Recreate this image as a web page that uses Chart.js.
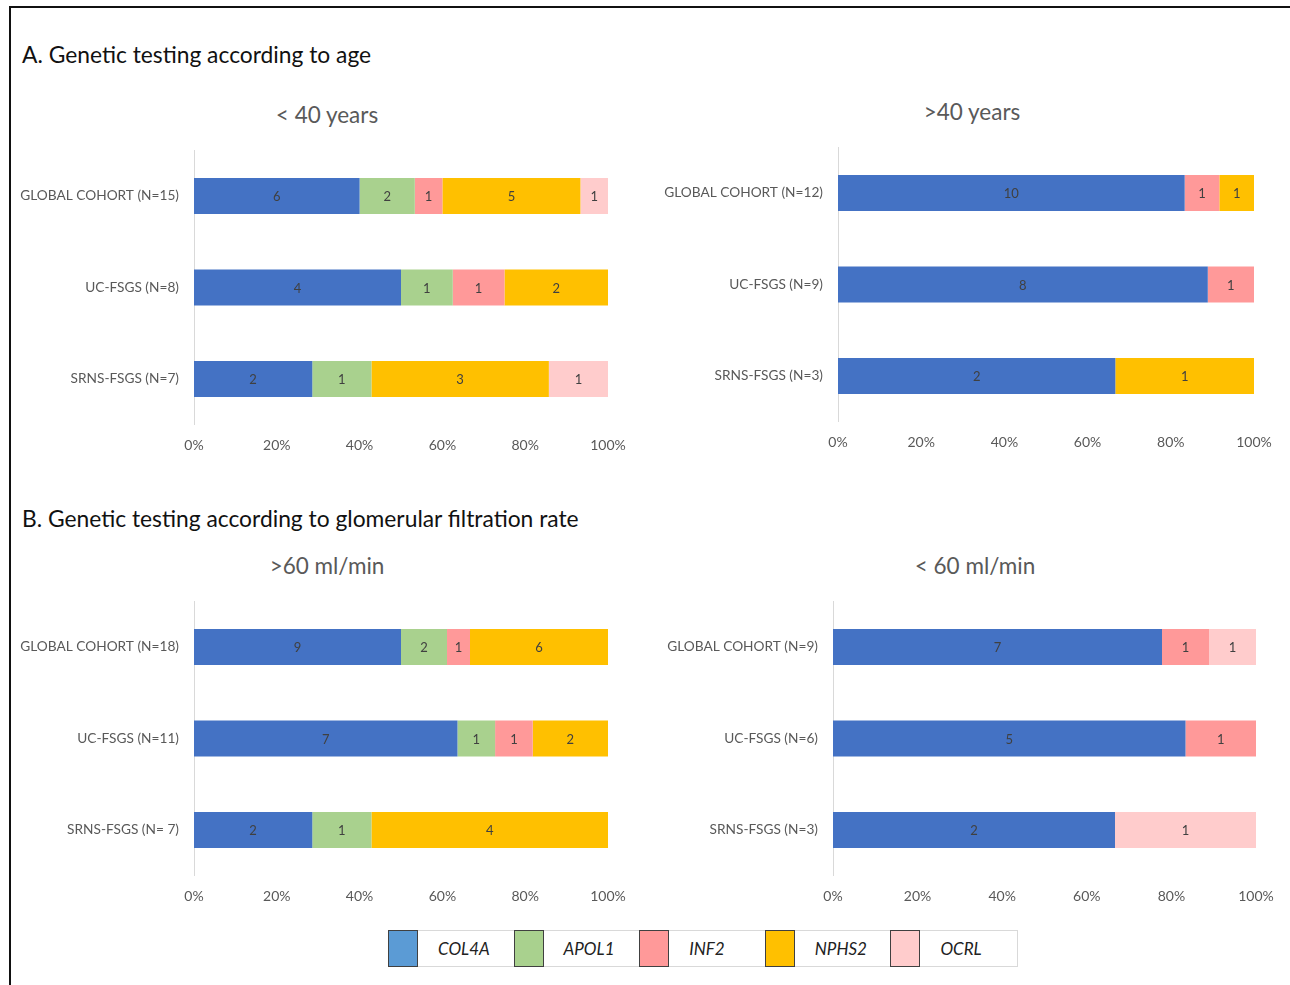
<!DOCTYPE html>
<html>
<head>
<meta charset="utf-8">
<script src="https://cdn.jsdelivr.net/npm/chart.js@4.4.1/dist/chart.umd.min.js"></script>
<style>
  html, body { margin: 0; padding: 0; background: #fff; }
  body { width: 1290px; height: 985px; position: relative; overflow: hidden; font-family: Lato, "Open Sans", sans-serif; }
  .frame { position: absolute; left: 9px; top: 6px; width: 1290px; height: 1000px; border-top: 2px solid #111; border-left: 2px solid #111; }
  .head { position: absolute; left: 22px; font-size: 22.8px; color: #111; transform: translateY(-50%); white-space: nowrap; }
  .sub { position: absolute; font-size: 22.5px; color: #595959; transform: translate(-50%, -50%); white-space: nowrap; }
  .chart { position: absolute; }
  #legend { position: absolute; left: 388px; top: 930px; width: 630px; height: 37px; border: 1px solid #d9d9d9; box-sizing: border-box; display: flex; }
  #legend .item { width: 126px; display: flex; align-items: center; height: 100%; }
  #legend .sw { width: 30px; height: 37px; box-sizing: border-box; border: 1.5px solid #404040; margin-left: -1px; }
  #legend .lb { margin-left: 20px; font-style: italic; font-size: 17px; color: #222; }
</style>
</head>
<body>
<div class="frame"></div>
<div class="head" style="top:54px">A. Genetic testing according to age</div>
<div class="head" style="top:518px">B. Genetic testing according to glomerular filtration rate</div>
<div class="sub" style="left:327px;top:114px">&lt; 40 years</div>
<div class="sub" style="left:972px;top:111px">&gt;40 years</div>
<div class="sub" style="left:327px;top:565px">&gt;60 ml/min</div>
<div class="sub" style="left:975px;top:565px">&lt; 60 ml/min</div>

<canvas id="c1" class="chart"></canvas>
<canvas id="c2" class="chart"></canvas>
<canvas id="c3" class="chart"></canvas>
<canvas id="c4" class="chart"></canvas>
<div id="legend"></div>

<script>
// genes (series)
var genes = ['COL4A', 'APOL1', 'INF2', 'NPHS2', 'OCRL'];
var barColors = ['#4472C4', '#A9D18E', '#FF9999', '#FFC000', '#FFCCCC'];
var legendColors = ['#5B9BD5', '#A9D18E', '#FF9999', '#FFC000', '#FFCCCC'];
var xTicks = [0, 20, 40, 60, 80, 100];

// < 40 years
var ageYoungLabels = ['GLOBAL COHORT (N=15)', 'UC-FSGS (N=8)', 'SRNS-FSGS (N=7)'];
var ageYoung = [
  [6, 4, 2],   // COL4A
  [2, 1, 1],   // APOL1
  [1, 1, 0],   // INF2
  [5, 2, 3],   // NPHS2
  [1, 0, 1]    // OCRL
];

// > 40 years
var ageOldLabels = ['GLOBAL COHORT (N=12)', 'UC-FSGS (N=9)', 'SRNS-FSGS (N=3)'];
var ageOld = [
  [10, 8, 2],
  [0, 0, 0],
  [1, 1, 0],
  [1, 0, 1],
  [0, 0, 0]
];

// > 60 ml/min
var gfrHighLabels = ['GLOBAL COHORT (N=18)', 'UC-FSGS (N=11)', 'SRNS-FSGS (N= 7)'];
var gfrHigh = [
  [9, 7, 2],
  [2, 1, 1],
  [1, 1, 0],
  [6, 2, 4],
  [0, 0, 0]
];

// < 60 ml/min
var gfrLowLabels = ['GLOBAL COHORT (N=9)', 'UC-FSGS (N=6)', 'SRNS-FSGS (N=3)'];
var gfrLow = [
  [7, 5, 2],
  [0, 0, 0],
  [1, 1, 0],
  [0, 0, 0],
  [1, 0, 1]
];

// canvas boxes and plot edges (page px)
var panels = [
  { id: 'c1', labels: ageYoungLabels, counts: ageYoung, box: [10, 130, 630, 330], plot: [194, 608, 150.25, 424.75] },
  { id: 'c2', labels: ageOldLabels,   counts: ageOld,   box: [645, 127, 640, 330], plot: [838, 1254, 147.25, 421.75] },
  { id: 'c3', labels: gfrHighLabels,  counts: gfrHigh,  box: [10, 581, 630, 330], plot: [194, 608, 601.25, 875.75] },
  { id: 'c4', labels: gfrLowLabels,   counts: gfrLow,   box: [645, 581, 640, 330], plot: [833, 1256, 601.25, 875.75] }
];

var FONT = 'Lato, "Open Sans", sans-serif';

var countLabels = {
  id: 'countLabels',
  afterDatasetsDraw: function(chart) {
    var ctx = chart.ctx;
    ctx.save();
    ctx.font = '13px ' + FONT;
    ctx.fillStyle = '#404040';
    ctx.textAlign = 'center';
    ctx.textBaseline = 'middle';
    chart.data.datasets.forEach(function(ds, i) {
      chart.getDatasetMeta(i).data.forEach(function(bar, j) {
        var n = ds.counts[j];
        if (!n) return;
        var p = bar.getProps(['x', 'base', 'y'], true);
        ctx.fillText(String(n), (p.x + p.base) / 2, p.y + 1);
      });
    });
    ctx.restore();
  }
};

panels.forEach(function(p) {
  var cv = document.getElementById(p.id);
  var b = p.box;
  cv.style.left = b[0] + 'px';
  cv.style.top = b[1] + 'px';
  cv.width = b[2];
  cv.height = b[3];
  cv.style.width = b[2] + 'px';
  cv.style.height = b[3] + 'px';

  var totals = p.labels.map(function(_, j) {
    return p.counts.reduce(function(s, arr) { return s + arr[j]; }, 0);
  });
  var datasets = genes.map(function(g, i) {
    return {
      label: g,
      counts: p.counts[i],
      data: p.counts[i].map(function(v, j) { return v / totals[j] * 100; }),
      backgroundColor: barColors[i],
      borderWidth: 0,
      barPercentage: 36 / 91.5,
      categoryPercentage: 1
    };
  });

  new Chart(cv.getContext('2d'), {
    type: 'bar',
    data: { labels: p.labels, datasets: datasets },
    plugins: [countLabels],
    options: {
      indexAxis: 'y',
      responsive: false,
      animation: false,
      devicePixelRatio: 1,
      layout: { padding: { top: p.plot[2] - b[1], right: b[0] + b[2] - p.plot[1], bottom: 0, left: 0 } },
      plugins: { legend: { display: false }, tooltip: { enabled: false } },
      scales: {
        x: {
          stacked: true, min: 0, max: 100,
          afterBuildTicks: function(s) { s.ticks = xTicks.map(function(v) { return { value: v }; }); },
          afterFit: function(s) { s.height = b[1] + b[3] - p.plot[3]; s.paddingLeft = 0; s.paddingRight = 0; },
          grid: { display: false, drawTicks: false },
          border: { display: false },
          ticks: { padding: 12, color: '#595959', font: { family: FONT, size: 14 }, callback: function(v) { return v + '%'; }, maxRotation: 0 }
        },
        y: {
          stacked: true,
          afterFit: function(s) { s.width = p.plot[0] - b[0]; s.paddingTop = 0; s.paddingBottom = 0; },
          grid: { display: false, drawTicks: false },
          border: { display: true, color: '#D9D9D9', width: 1 },
          ticks: { padding: 15, color: '#595959', font: { family: FONT, size: 13.7 } }
        }
      }
    }
  });
});

var lg = document.getElementById('legend');
genes.forEach(function(g, i) {
  var it = document.createElement('div');
  it.className = 'item';
  it.innerHTML = '<div class="sw" style="background:' + legendColors[i] + '"></div><span class="lb">' + g + '</span>';
  lg.appendChild(it);
});
</script>
</body>
</html>
